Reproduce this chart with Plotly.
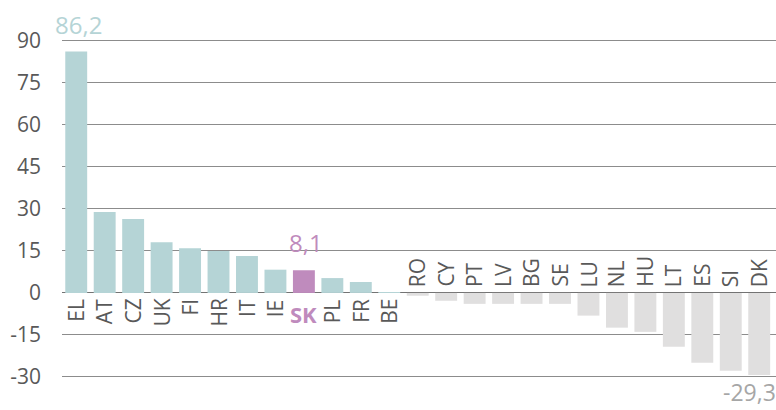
import plotly.graph_objects as go

# data
countries = ["EL", "AT", "CZ", "UK", "FI", "HR", "IT", "IE", "SK", "PL", "FR", "BE",
             "RO", "CY", "PT", "LV", "BG", "SE", "LU", "NL", "HU", "LT", "ES", "SI", "DK"]
values = [86.2, 28.9, 26.4, 18.1, 16.0, 15.0, 13.2, 8.3, 8.1, 5.3, 3.9, 0.3,
          -1.0, -2.8, -3.9, -3.9, -3.9, -3.9, -8.1, -12.4, -13.9, -19.2, -24.9, -27.8, -29.3]
highlight = "SK"
labelled = {"EL": "86,2", "SK": "8,1", "DK": "-29,3"}
tick_vals = [-30, -15, 0, 15, 30, 45, 60, 75, 90]
tick_text = ["-30", "-15", "0", "15", "30", "45", "60", "75", "90"]

POS = "#b5d4d6"
NEG = "#e0dfdf"
HL = "#bf8bbd"
FONT = "Open Sans"

def bar_color(c, v):
    if c == highlight:
        return HL
    return POS if v >= 0 else NEG

colors = [bar_color(c, v) for c, v in zip(countries, values)]

fig = go.Figure(go.Bar(x=countries, y=values, marker_color=colors,
                       marker_line_width=0, hoverinfo="skip"))

# country labels along the zero line
for c, v in zip(countries, values):
    fig.add_annotation(
        x=c, y=0, text=f"<b>{c}</b>" if c == highlight else c,
        textangle=-90 if c != highlight else 0,
        showarrow=False,
        yanchor="top" if v >= 0 else "bottom",
        yshift=-4 if v >= 0 else 4,
        font=dict(family=FONT, size=21 if c != highlight else 22,
                  color=HL if c == highlight else "#595959"),
    )

# value labels
for c, v in zip(countries, values):
    if c in labelled:
        col = HL if c == highlight else (POS if v >= 0 else "#a6a6a6")
        fig.add_annotation(
            x=c, y=v, text=labelled[c], showarrow=False,
            yanchor="bottom" if v >= 0 else "top",
            yshift=10 if v >= 0 else 0,
            xanchor="center" if v >= 0 else "right",
            xshift=2 if v >= 0 else 18,
            borderpad=0,
            font=dict(family=FONT, size=24 if v >= 0 else 23, color=col),
        )

fig.update_layout(
    width=776, height=410,
    margin=dict(l=62, r=0, t=0, b=0),
    plot_bgcolor="white", paper_bgcolor="white",
    bargap=0.23, showlegend=False,
    xaxis=dict(showticklabels=False, showgrid=False, zeroline=False,
               range=[-0.5, 24.59], fixedrange=True),
    yaxis=dict(range=[-41.8, 104.6], tickvals=tick_vals, ticktext=tick_text,
               showgrid=True, gridcolor="#8c8c8c", gridwidth=1,
               zeroline=True, zerolinecolor="#737373", zerolinewidth=1,
               ticks="", ticklabelstandoff=20,
               tickfont=dict(family=FONT, size=21, color="#595959")),
)

fig.write_html("out.html", config={"displayModeBar": False},
               post_script="document.body.style.margin='0';")
